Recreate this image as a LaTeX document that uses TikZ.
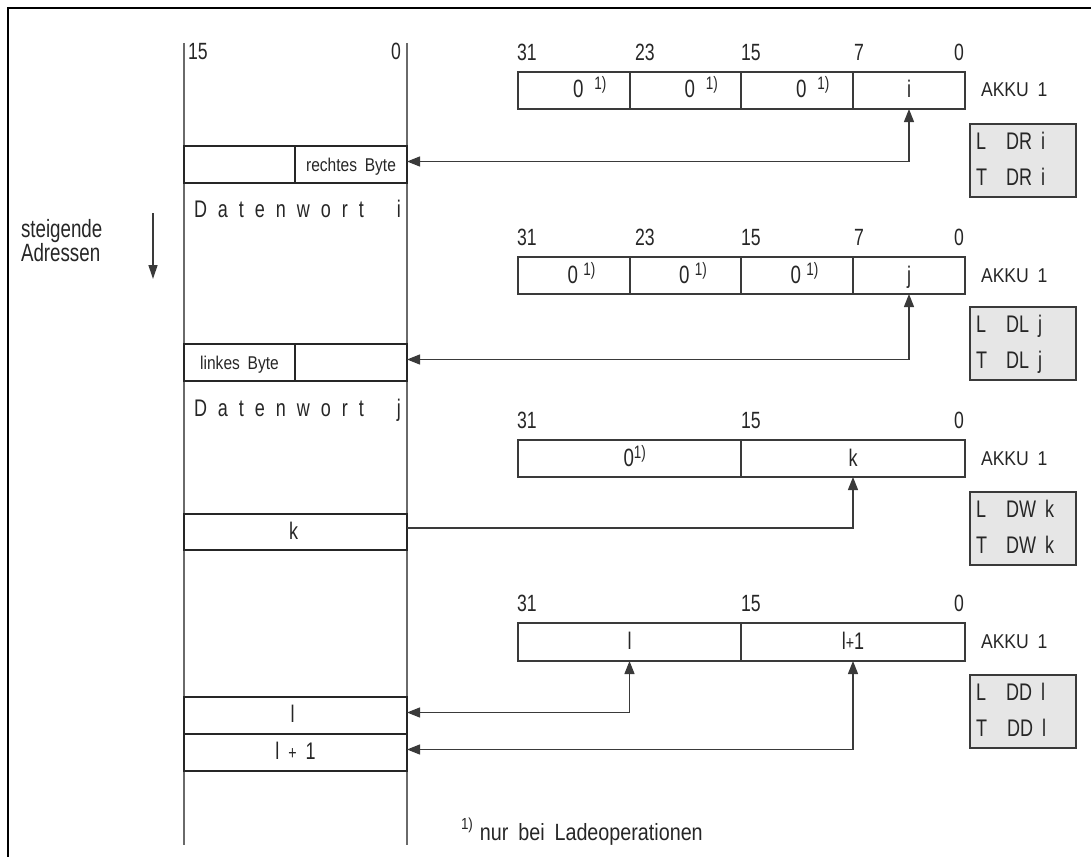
\documentclass[tikz,border=0pt]{standalone}
\usepackage{fontspec}
\setmainfont{Liberation Sans}[FakeStretch=0.75,WordSpace=1.8]
\newfontfamily\midsans{Liberation Sans}[FakeStretch=0.84,WordSpace=1.8]
\newfontfamily\widesans{Liberation Sans}[FakeStretch=0.88,WordSpace=1.8]
\usetikzlibrary{arrows.meta,calc}

\definecolor{ink}{HTML}{262626}
\definecolor{lc}{HTML}{3A3A3A}
\definecolor{colc}{HTML}{6A6A6A}
\definecolor{boxfill}{HTML}{E6E6E6}

\newcommand{\fsz}[1]{\fontsize{#1}{#1}\selectfont}
\newcommand{\fnmark}{\raisebox{8pt}{\fsz{18}1)}}
% register cell holding "0" with footnote mark: cell, x offset, gap
\newcommand{\zerocell}[3]{\node[txt, font=\fsz{25}, anchor=base west] at ($(#1.south)+(#2,-11)$) {0\hspace{#3}\fnmark};}

\begin{document}
\begin{tikzpicture}[x=1pt,y=-1pt,
  txt/.style={inner sep=0pt, outer sep=0pt, text=ink, font=\fsz{24}},
  bitno/.style={txt, font=\fsz{23.5}},
  small/.style={txt, font=\midsans\fsz{18.5}},
  akku/.style={txt, font=\widesans\fsz{20}, anchor=base west},
  cell/.style={draw=lc, line width=1.3pt, inner sep=0pt, outer sep=0pt, anchor=north west, minimum height=37pt},
  memrow/.style={cell, draw=ink},
  gbox/.style={draw=lc, fill=boxfill, line width=1.3pt, inner sep=0pt, outer sep=0pt, anchor=north west, minimum width=106pt, minimum height=73pt},
  conn/.style={draw=lc, line width=1.3pt, {Triangle[length=13pt,width=10pt]}-{Triangle[length=13pt,width=10pt]}},
  conn1/.style={draw=lc, line width=1.3pt, -{Triangle[length=13pt,width=10pt]}},
]
\useasboundingbox (0,0) rectangle (1091,856);

% outer frame (only top and left edges lie inside the page)
\draw[black, line width=2pt] (8,870) -- (8,8) -- (1100,8);

% ---------------- data block (memory column) ----------------
\draw[colc, line width=1.3pt] (184,43) -- (184,845);
\draw[colc, line width=1.3pt] (407,43) -- (407,845);
\node[bitno, anchor=base west] (m15) at (188,60) {15};
\node[bitno, anchor=base east] (m0) at (401,60) {0};

\node[memrow, minimum width=111pt] (rbL) at (184,146) {};
\node[memrow, minimum width=112pt] (rbR) at (295,146) {};
\node[small, anchor=base] at ($(rbR.south)+(0,-12)$) {rechtes Byte};

\node[txt, anchor=base west] (dwi) at (194,217)
  {\makebox[207pt][s]{D\hfill a\hfill t\hfill e\hfill n\hfill w\hfill o\hfill r\hfill t\hfill\hfill\hfill i}};

\node[memrow, minimum width=111pt] (lbL) at (184,344) {};
\node[memrow, minimum width=112pt] (lbR) at (295,344) {};
\node[small, anchor=base] at ($(lbL.south)+(0,-12)$) {linkes Byte};

\node[txt, anchor=base west] (dwj) at (194,416)
  {\makebox[207pt][s]{D\hfill a\hfill t\hfill e\hfill n\hfill w\hfill o\hfill r\hfill t\hfill\hfill\hfill j}};

\node[memrow, minimum width=223pt, minimum height=36pt] (krow) at (184,514) {};
\node[txt, anchor=base] at ($(krow.south)+(-2,-11)$) {k};

\node[memrow, minimum width=223pt] (lrow) at (184,697) {};
\node[txt, anchor=base] at ($(lrow.south)+(-3,-12)$) {l};
\node[memrow, minimum width=223pt] (l1row) at (184,734) {};
\node[txt, anchor=base] at ($(l1row.south)+(0,-12)$) {l\hspace{9pt}{\fsz{19}+}\hspace{9pt}1};

% rising addresses
\node[txt, font=\fsz{25}, anchor=base west] (st) at (21,237) {steigende};
\node[txt, font=\fsz{25}, anchor=base west] (ad) at (21,261) {Adressen};
\coordinate (adrA) at (153,213);
\coordinate (adrB) at (153,279);
\draw[lc, line width=1.3pt, -{Triangle[length=14pt,width=9pt]}] (adrA) -- (adrB);

% ---------------- accumulator 1: DR i ----------------
\node[cell, minimum width=112pt] (r1a) at (518,72) {};
\node[cell, minimum width=111pt] (r1b) at (630,72) {};
\node[cell, minimum width=112pt] (r1c) at (741,72) {};
\node[cell, minimum width=112pt] (r1d) at (853,72) {};
\node[bitno, anchor=base west] at ($(r1a.north west)+(-1,-11)$) {31};
\node[bitno, anchor=base west] at ($(r1b.north west)+(5,-11)$) {23};
\node[bitno, anchor=base west] at ($(r1c.north west)+(0,-11)$) {15};
\node[bitno, anchor=base west] at ($(r1d.north west)+(1,-11)$) {7};
\node[bitno, anchor=base east] at ($(r1d.north east)+(-1,-11)$) {0};
\zerocell{r1a}{-1}{11pt}
\zerocell{r1b}{-1}{11pt}
\zerocell{r1c}{-1}{11pt}
\node[txt, anchor=base] at ($(r1d.south)+(0,-11)$) {i};
\node[akku] at ($(r1d.south east)+(16,-12)$) {AKKU 1};
\node[gbox] (g1) at (970,124) {};
\node[txt, anchor=base west] at ($(g1.north west)+(6,25)$) {L};
\node[txt, anchor=base west] at ($(g1.north west)+(36,25)$) {DR i};
\node[txt, anchor=base west] at ($(g1.north west)+(6,61)$) {T};
\node[txt, anchor=base west] at ($(g1.north west)+(36,61)$) {DR i};
\draw[conn] ([yshift=3pt]rbR.east) -| (r1d.south);

% ---------------- accumulator 1: DL j ----------------
\node[cell, minimum width=112pt] (r2a) at (518,257) {};
\node[cell, minimum width=111pt] (r2b) at (630,257) {};
\node[cell, minimum width=112pt] (r2c) at (741,257) {};
\node[cell, minimum width=112pt] (r2d) at (853,257) {};
\node[bitno, anchor=base west] at ($(r2a.north west)+(-1,-12)$) {31};
\node[bitno, anchor=base west] at ($(r2b.north west)+(5,-12)$) {23};
\node[bitno, anchor=base west] at ($(r2c.north west)+(0,-12)$) {15};
\node[bitno, anchor=base west] at ($(r2d.north west)+(1,-12)$) {7};
\node[bitno, anchor=base east] at ($(r2d.north east)+(-1,-12)$) {0};
\zerocell{r2a}{-6.5}{5.5pt}
\zerocell{r2b}{-6.5}{5.5pt}
\zerocell{r2c}{-6.5}{5.5pt}
\node[txt, anchor=base] at ($(r2d.south)+(0,-11)$) {j};
\node[akku] at ($(r2d.south east)+(16,-12)$) {AKKU 1};
\node[gbox] (g2) at (970,307) {};
\node[txt, anchor=base west] at ($(g2.north west)+(6,25)$) {L};
\node[txt, anchor=base west] at ($(g2.north west)+(36,25)$) {DL j};
\node[txt, anchor=base west] at ($(g2.north west)+(6,61)$) {T};
\node[txt, anchor=base west] at ($(g2.north west)+(36,61)$) {DL j};
\draw[conn] ([yshift=3pt]lbR.east) -| (r2d.south);

% ---------------- accumulator 1: DW k ----------------
\node[cell, minimum width=223pt] (r3a) at (518,440) {};
\node[cell, minimum width=224pt] (r3b) at (741,440) {};
\node[bitno, anchor=base west] at ($(r3a.north west)+(-1,-12)$) {31};
\node[bitno, anchor=base west] at ($(r3b.north west)+(0,-12)$) {15};
\node[bitno, anchor=base east] at ($(r3b.north east)+(-1,-12)$) {0};
\zerocell{r3a}{-6}{0pt}
\node[txt, anchor=base] at ($(r3b.south)+(0,-11)$) {k};
\node[akku] at ($(r3b.south east)+(16,-12)$) {AKKU 1};
\node[gbox] (g3) at (970,492) {};
\node[txt, anchor=base west] at ($(g3.north west)+(6,25)$) {L};
\node[txt, anchor=base west] at ($(g3.north west)+(36,25)$) {DW k};
\node[txt, anchor=base west] at ($(g3.north west)+(6,61)$) {T};
\node[txt, anchor=base west] at ($(g3.north west)+(36,61)$) {DW k};
\draw[conn1] ([yshift=4pt]krow.east) -| (r3b.south);

% ---------------- accumulator 1: DD l ----------------
\node[cell, minimum width=223pt, minimum height=38pt] (r4a) at (518,623) {};
\node[cell, minimum width=224pt, minimum height=38pt] (r4b) at (741,623) {};
\node[bitno, anchor=base west] at ($(r4a.north west)+(-1,-12)$) {31};
\node[bitno, anchor=base west] at ($(r4b.north west)+(0,-12)$) {15};
\node[bitno, anchor=base east] at ($(r4b.north east)+(-1,-12)$) {0};
\node[txt, anchor=base] at ($(r4a.south)+(0,-12)$) {l};
\node[txt, anchor=base] at ($(r4b.south)+(0,-12)$) {l{\fsz{19}+}1};
\node[akku] at ($(r4b.south east)+(16,-13)$) {AKKU 1};
\node[gbox] (g4) at (970,675) {};
\node[txt, anchor=base west] at ($(g4.north west)+(6,25)$) {L};
\node[txt, anchor=base west] at ($(g4.north west)+(36,25)$) {DD l};
\node[txt, anchor=base west] at ($(g4.north west)+(6,61)$) {T};
\node[txt, anchor=base west] at ($(g4.north west)+(37,61)$) {DD l};
\draw[conn] ([yshift=3pt]lrow.east) -| (r4a.south);
\draw[conn] ([yshift=3pt]l1row.east) -| (r4b.south);

% footnote
\node[txt, font=\midsans\fsz{23.5}, anchor=base west] (fn) at (461,840)
  {\raisebox{11pt}{\fsz{16}1)}\hspace{7pt}nur bei Ladeoperationen};
\end{tikzpicture}
\end{document}
